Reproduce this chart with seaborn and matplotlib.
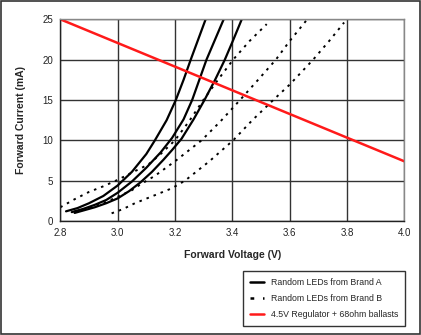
import matplotlib
matplotlib.use("Agg")
import matplotlib.pyplot as plt
from matplotlib.lines import Line2D
from matplotlib.patches import Rectangle
import seaborn as sns
import pandas as pd

# ---- data ----
a1_v = [2.82, 2.86, 2.90, 2.95, 3.00, 3.05, 3.10, 3.13, 3.171, 3.203, 3.23, 3.255, 3.281, 3.307]
a1_i = [1.2, 1.6, 2.2, 3.1, 4.4, 6.1, 8.3, 10.0, 12.5, 15.0, 17.5, 20.0, 22.5, 25.0]
a2_v = [2.84, 2.88, 2.92, 2.96, 3.00, 3.05, 3.10, 3.15, 3.19, 3.23, 3.26, 3.285, 3.31, 3.34, 3.37]
a2_i = [1.1, 1.5, 2.0, 2.6, 3.5, 4.9, 6.6, 8.5, 10.3, 12.6, 15.0, 17.5, 20.0, 22.5, 25.0]
a3_v = [2.85, 2.88, 2.92, 2.96, 3.00, 3.04, 3.08, 3.12, 3.16, 3.19, 3.223, 3.265, 3.303, 3.34, 3.374, 3.404, 3.433]
a3_i = [1.0, 1.3, 1.7, 2.2, 2.8, 3.7, 4.8, 6.1, 7.6, 8.8, 10.2, 12.6, 15.0, 17.5, 20.0, 22.5, 25.0]

b1_v = [2.80, 2.85, 2.90, 2.95, 3.00, 3.05, 3.107, 3.15, 3.20, 3.25, 3.299, 3.35, 3.403, 3.46, 3.52]
b1_i = [1.7, 2.7, 3.6, 4.3, 5.1, 6.0, 7.0, 8.3, 10.0, 12.4, 15.0, 17.5, 20.0, 22.3, 24.4]
b2_v = [2.85, 2.90, 2.95, 3.00, 3.049, 3.078, 3.13, 3.20, 3.293, 3.36, 3.427, 3.49, 3.552, 3.60, 3.657]
b2_i = [1.2, 1.6, 2.2, 3.0, 3.8, 4.5, 5.6, 7.4, 10.0, 12.4, 15.0, 17.5, 20.0, 22.3, 24.8]
b3_v = [2.979, 3.02, 3.06, 3.13, 3.189, 3.235, 3.32, 3.403, 3.47, 3.543, 3.60, 3.682, 3.74, 3.79]
b3_i = [0.95, 1.5, 2.2, 3.2, 4.05, 5.0, 7.4, 10.0, 12.5, 15.0, 16.9, 20.0, 22.4, 24.6]

reg_v = [2.8, 4.0]
reg_i = [25.0, 7.4]

x_ticks = [2.8, 3.0, 3.2, 3.4, 3.6, 3.8, 4.0]
y_ticks = [0, 5, 10, 15, 20, 25]
legend_labels = ["Random LEDs from Brand A", "Random LEDs from Brand B",
                 "4.5V Regulator + 68ohm ballasts"]

sns.set_theme(style="white")
plt.rcParams["font.family"] = ["Liberation Sans", "DejaVu Sans"]

fig = plt.figure(figsize=(4.21, 3.35), dpi=100)
ax = fig.add_axes([60.3 / 421, 1 - 221 / 335, (404.3 - 60.3) / 421, (221 - 19.3) / 335])

def draw(v, i, **kw):
    df = pd.DataFrame({"V": v, "I": i})
    sns.lineplot(data=df, x="V", y="I", ax=ax, sort=False, estimator=None, **kw)

for v, i in [(a1_v, a1_i), (a2_v, a2_i), (a3_v, a3_i)]:
    draw(v, i, color="black", linewidth=1.6)
for v, i in [(b1_v, b1_i), (b2_v, b2_i), (b3_v, b3_i)]:
    draw(v, i, color="black", linewidth=1.4, linestyle=(0, (1.3, 2.6)))
draw(reg_v, reg_i, color="#ff1a1a", linewidth=1.8)

ax.set_xlim(2.8, 4.0)
ax.set_ylim(0, 25)
ax.set_xticks(x_ticks)
ax.set_xticklabels([f"{t:.1f}" for t in x_ticks])
ax.set_yticks(y_ticks)
ax.set_yticklabels([str(t) for t in y_ticks])
ax.tick_params(axis="both", length=0, pad=5, labelsize=7, colors="#222222")
ax.grid(True, color="#333333", linewidth=1.0)
ax.set_axisbelow(True)
for side in ["top", "right"]:
    ax.spines[side].set_color("#888888")
    ax.spines[side].set_linewidth(1.0)
for side in ["left", "bottom"]:
    ax.spines[side].set_color("#222222")
    ax.spines[side].set_linewidth(1.0)

ax.set_xlabel("Forward Voltage (V)", fontsize=7.5, fontweight="bold", labelpad=9)
ax.set_ylabel("Forward Current (mA)", fontsize=7.5, fontweight="bold", labelpad=12)

handles = [
    Line2D([], [], color="black", linewidth=1.8),
    Line2D([], [], color="black", linewidth=1.8, linestyle=(0, (1.5, 3.5))),
    Line2D([], [], color="#ff1a1a", linewidth=1.8),
]
leg = fig.legend(handles, legend_labels, loc="upper left",
                 bbox_to_anchor=(243 / 421, 1 - 271 / 335), frameon=True,
                 fancybox=False, edgecolor="black", fontsize=6.3,
                 handlelength=1.6, handletextpad=0.8, borderpad=0.75,
                 labelspacing=0.85, borderaxespad=0)
leg.get_frame().set_linewidth(1.0)

fig.patches.append(Rectangle((0.003, 0.003), 0.994, 0.994, transform=fig.transFigure,
                             fill=False, edgecolor="#333333", linewidth=1.2))

fig.savefig("out.png", dpi=100)
